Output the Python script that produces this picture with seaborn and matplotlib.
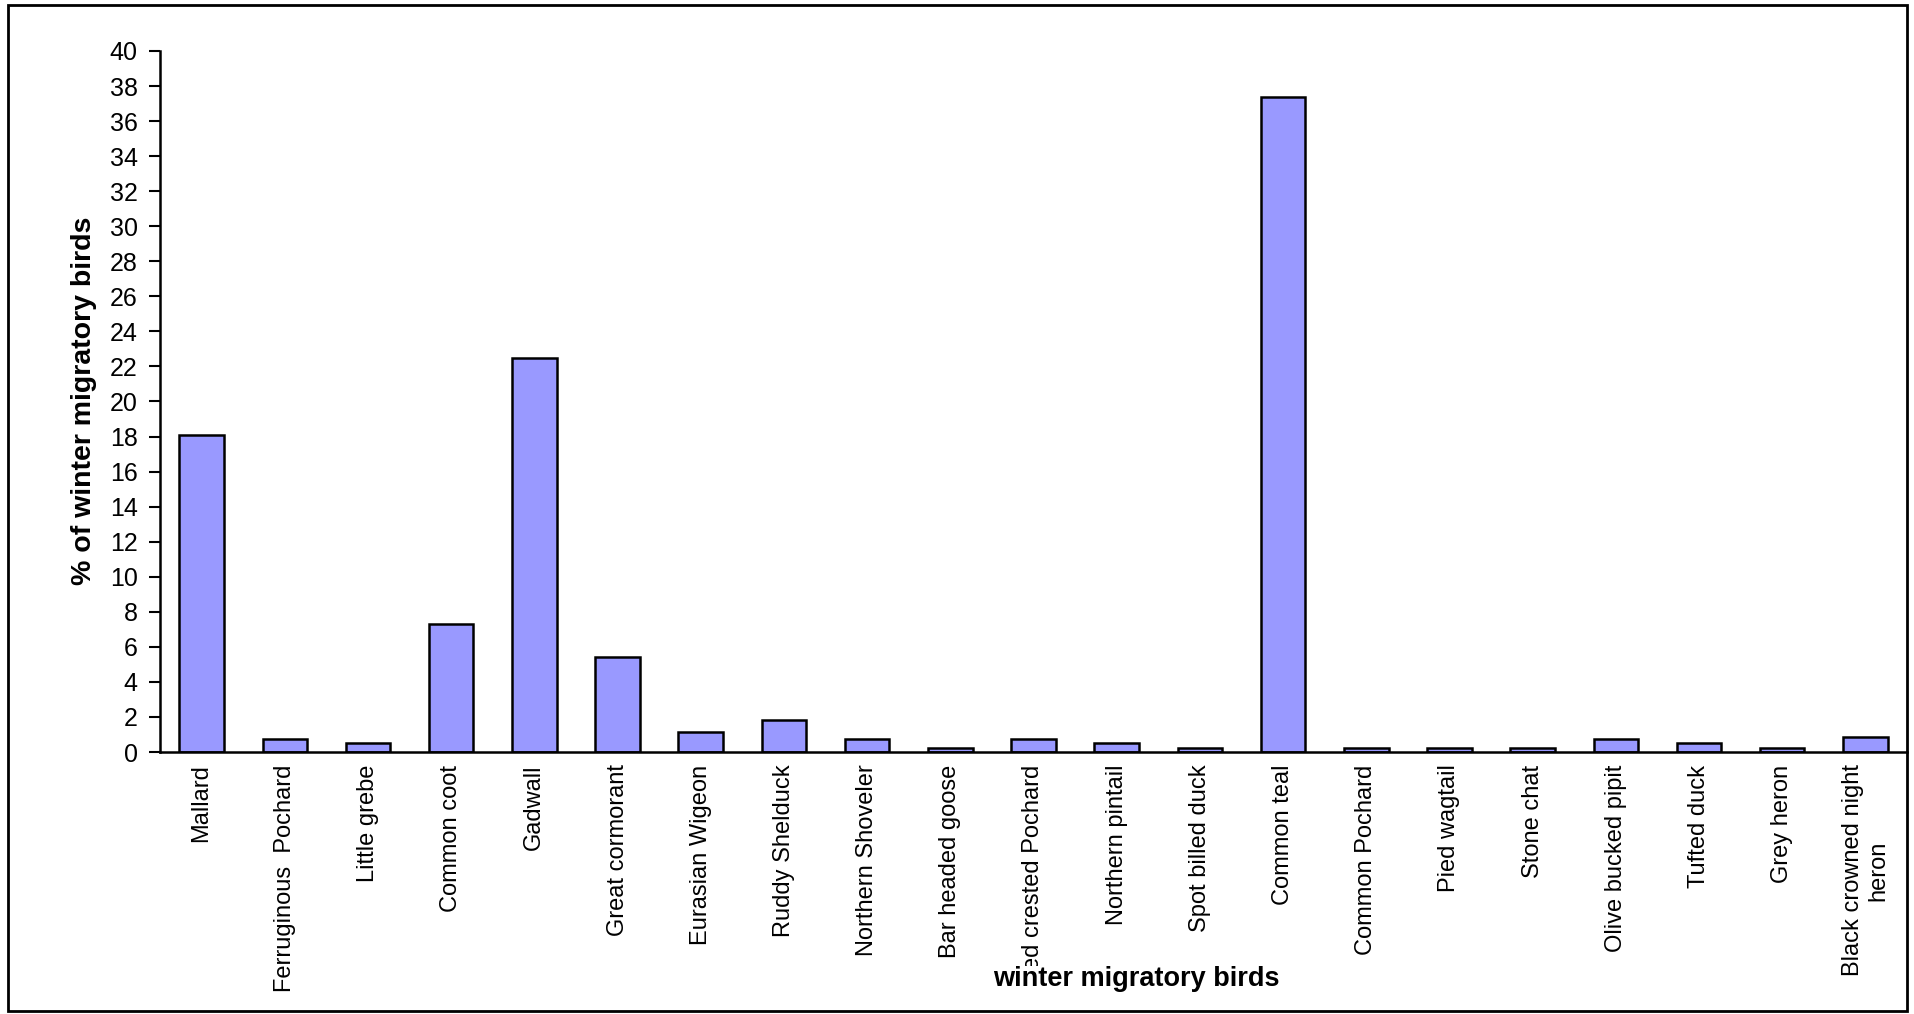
import matplotlib
matplotlib.use("Agg")
import matplotlib.pyplot as plt
import seaborn as sns
import pandas as pd
from matplotlib.patches import Rectangle
from matplotlib.ticker import FixedLocator

# Share (%) of each winter migratory species
birds = [
    "Mallard", "Ferruginous  Pochard", "Little grebe", "Common coot", "Gadwall",
    "Great cormorant", "Eurasian Wigeon", "Ruddy Shelduck", "Northern Shoveler",
    "Bar headed goose", "Red crested Pochard", "Northern pintail",
    "Spot billed duck", "Common teal", "Common Pochard", "Pied wagtail",
    "Stone chat", "Olive bucked pipit", "Tufted duck", "Grey heron",
    "Black crowned night\nheron",
]
percent = [
    18.1, 0.72, 0.5, 7.3, 22.5,
    5.43, 1.12, 1.85, 0.72,
    0.23, 0.72, 0.5,
    0.23, 37.4, 0.23, 0.23,
    0.23, 0.72, 0.5, 0.23,
    0.84,
]
y_ticks = list(range(0, 41, 2))

df = pd.DataFrame({"bird": birds, "percent": percent})

sns.set_style("white")
plt.rcParams["font.family"] = ["Liberation Sans", "DejaVu Sans"]
plt.rcParams["text.color"] = "black"
plt.rcParams["axes.labelcolor"] = "black"
plt.rcParams["xtick.color"] = "black"
plt.rcParams["ytick.color"] = "black"

W, H = 1915, 1014
fig = plt.figure(figsize=(W / 100, H / 100), dpi=100)
ax = fig.add_axes([160 / W, 1 - 752 / H, (1907 - 160) / W, (752 - 51) / H])

sns.barplot(data=df, x="bird", y="percent", color="#9999FF", saturation=1,
            edgecolor="black", linewidth=1.8, width=0.535, ax=ax)

n = len(birds)
ax.set_xlim(-0.5, n - 0.5)
ax.set_ylim(0, 40)
ax.set_yticks(y_ticks)
ax.set_yticklabels([str(t) for t in y_ticks], fontsize=18)

# category labels under each bar, tick marks between categories
ax.set_xticks(range(n))
ax.set_xticklabels(birds, rotation=90, fontsize=17, ha="center", va="top",
                   multialignment="center")
ax.xaxis.set_minor_locator(FixedLocator([i - 0.5 for i in range(n + 1)]))
ax.tick_params(axis="x", which="major", length=0, pad=9)
ax.tick_params(axis="x", which="minor", length=8, width=1.5, direction="out",
               color="black")
ax.tick_params(axis="y", which="major", length=8, width=1.5, direction="out",
               color="black", pad=8, left=True)
ax.set_xlabel("")
ax.set_ylabel("")

for side in ("top", "right"):
    ax.spines[side].set_visible(False)
for side in ("left", "bottom"):
    ax.spines[side].set_visible(True)
    ax.spines[side].set_color("black")
    ax.spines[side].set_linewidth(1.8)

fig.text(84 / W, 1 - 401 / H, "% of winter migratory birds", rotation=90,
         ha="center", va="center", fontsize=20.5, fontweight="bold")
fig.text(1136 / W, 1 - 979 / H, "winter migratory birds",
         ha="center", va="center", fontsize=19.5, fontweight="bold",
         bbox=dict(facecolor="white", edgecolor="none", pad=0))

# outer frame around the chart
fig.patches.append(Rectangle((8 / W, 1 - 1011 / H), (1907 - 8) / W, (1011 - 5) / H,
                             transform=fig.transFigure, fill=False,
                             edgecolor="black", linewidth=2))

fig.savefig("out.png", dpi=100, facecolor="white")
